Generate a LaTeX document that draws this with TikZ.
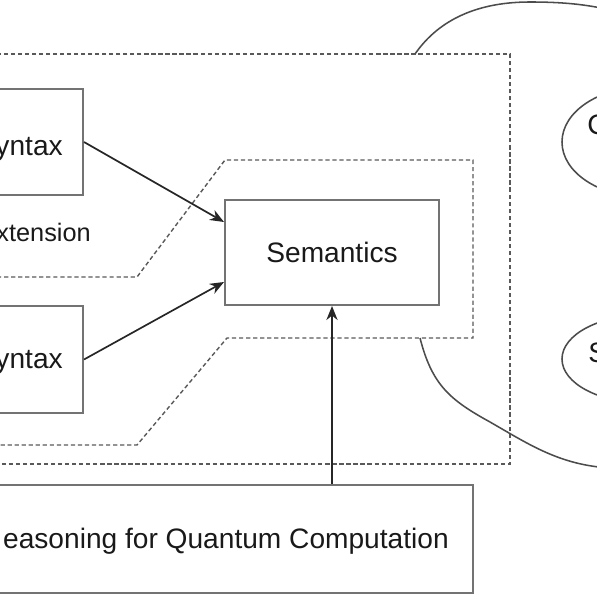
\documentclass[tikz,border=0pt]{standalone}
\usepackage{fontspec}
\setmainfont{Liberation Sans}
\usetikzlibrary{arrows.meta,shapes.geometric,calc}

\tikzset{
  box/.style={draw=black!55, line width=1.4pt, inner sep=0pt},
  word/.style={font=\fontsize{20}{24}\selectfont, text=black!90, inner sep=0pt},
  dots/.style={draw=black!65, line width=1pt, dash pattern=on 3pt off 2pt},
  arr/.style={draw=black!85, line width=1.2pt, -{Stealth[length=10pt,width=8pt]}},
  wire/.style={draw=black!70, line width=1.1pt},
  blob/.style={ellipse, draw=black!70, line width=1.1pt, inner sep=0pt}
}

\begin{document}
\begin{tikzpicture}[x=0.025cm,y=-0.025cm]
  \useasboundingbox (0,0) rectangle (597,597);
  \clip (0,0) rectangle (597,597);

  \draw [dots] (-10,54) rectangle (510,464);
  \draw [dots] (-10,277) -- (137,277) -- (225,160) -- (473,160) -- (473,338) -- (227,338) -- (137,445) -- (-10,445);

  \node [box, minimum width=2.325cm, minimum height=2.65cm] (syn1) at (36.5,142) {};
  \node [box, minimum width=2.325cm, minimum height=2.675cm] (syn2) at (36.5,359.5) {};
  \node [box, minimum width=5.35cm, minimum height=2.625cm, word] (sem) at (332,252.5) {Semantics};
  \node [box, minimum width=12.075cm, minimum height=2.7cm] (reason) at (231.5,539) {};

  \node [word, anchor=base east] (syn1txt) at (63,155) {yntax};
  \node [word, anchor=base east, font=\fontsize{18}{22}\selectfont] (exttxt) at (91,241) {xtension};
  \node [word, anchor=base east] (syn2txt) at (63,368) {yntax};
  \node [word, anchor=base east] (reasontxt) at (449,548) {easoning for Quantum Computation};

  \draw [arr] (syn1.east) -- ($(sem.west)+(0,-30.5)$);
  \draw [arr] (syn2.east) -- ($(sem.west)+(0,29.5)$);
  \draw [arr] (sem.south |- reason.north) -- (sem.south);

  \node [blob, minimum width=4.15cm, minimum height=2.75cm] (cblob) at (645,142) {};
  \node [blob, minimum width=4.15cm, minimum height=2.2cm] (sblob) at (645,359) {};
  \node [word, anchor=base west] (ctxt) at (587,135) {C};
  \node [word, anchor=base west] (stxt) at (588,362) {S};

  \coordinate (topstart) at (415,54);
  \coordinate (topend) at (610,10);
  \coordinate (lowstart) at (420,338);
  \coordinate (lowend) at (610,468);
  \draw [wire] (topstart) .. controls (440,18) and (480,2) .. (530,2) .. controls (560,2) and (585,4) .. (topend);
  \draw [wire] (lowstart) .. controls (432,385) and (450,400) .. (490,422) .. controls (530,445) and (560,465) .. (lowend);
\end{tikzpicture}
\end{document}
